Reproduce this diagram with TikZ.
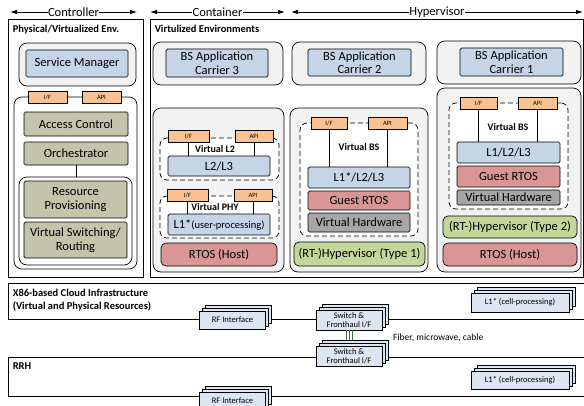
\documentclass[tikz,border=0pt]{standalone}
\usepackage{fontspec}
\setmainfont{Carlito}
\usetikzlibrary{arrows.meta,positioning,shadows,calc}

\definecolor{boxblue}{RGB}{198,212,232}
\definecolor{taborange}{RGB}{250,193,146}
\definecolor{olivebox}{RGB}{196,196,170}
\definecolor{rtosred}{RGB}{218,150,148}
\definecolor{hwgrey}{RGB}{166,166,166}
\definecolor{hypgreen}{RGB}{196,215,155}
\definecolor{envgrey}{RGB}{242,242,242}
\definecolor{stackblue}{RGB}{220,230,242}
\definecolor{linkgreen}{RGB}{50,110,50}

% \boxat{style}{name}{x1}{y1}{x2}{y2}{text}
\newcommand{\boxat}[7]{%
  \node[#1, minimum width={(#5)-(#3)}, minimum height={(#6)-(#4)}]
    (#2) at ({((#3)+(#5))/2},{((#4)+(#6))/2}) {#7};}

\tikzset{
  panel/.style={draw, line width=0.9pt, inner sep=0pt},
  envbox/.style={draw, line width=0.7pt, rounded corners=8pt, fill=envgrey, inner sep=0pt},
  groupbox/.style={draw, line width=0.7pt, rounded corners=8pt, fill=white, inner sep=0pt},
  vmbox/.style={draw, dash pattern=on 5pt off 3pt, line width=0.7pt, rounded corners=7pt, fill=white, inner sep=0pt},
  layer/.style={draw, line width=0.7pt, rounded corners=1.5pt, align=center, inner sep=0pt,
    font=\fontsize{12.5}{13.5}\selectfont},
  appbox/.style={layer, fill=boxblue},
  ctrlbox/.style={layer, fill=olivebox},
  osbox/.style={layer, fill=rtosred, rounded corners=5pt},
  guestbox/.style={layer, fill=rtosred},
  hwbox/.style={layer, fill=hwgrey},
  hypbox/.style={layer, fill=hypgreen, rounded corners=5pt},
  tab/.style={draw, line width=0.6pt, fill=taborange, inner sep=0pt,
    font=\fontsize{6.5}{7}\selectfont},
  stack/.style={draw, line width=0.6pt, fill=stackblue, align=center, inner sep=0pt,
    font=\fontsize{8.5}{9.5}\selectfont,
    copy shadow={shadow xshift=6pt, shadow yshift=6pt, fill=stackblue, draw=black, line width=0.6pt},
    copy shadow={shadow xshift=3pt, shadow yshift=3pt, fill=stackblue, draw=black, line width=0.6pt}},
  title/.style={anchor=north west, inner sep=0pt, align=left,
    font=\bfseries\fontsize{10.5}{13}\selectfont},
  vmlabel/.style={inner sep=0pt, font=\bfseries\fontsize{10}{11}\selectfont},
  span/.style={{Latex[length=7pt,width=4.5pt]}-{Latex[length=7pt,width=4.5pt]}, line width=0.8pt},
  spanlabel/.style={fill=white, inner sep=0.5pt, font=\fontsize{12.5}{13}\selectfont},
}

\begin{document}
\begin{tikzpicture}[x=1pt, y=-1pt]

    \clip (0,0) rectangle (584,405);

    % --- 1. Spans on top ---
    \coordinate (ctrlL) at (10,12);
    \coordinate (ctrlR) at (137,12);
    \coordinate (contL) at (150,12);
    \coordinate (contR) at (285,12);
    \coordinate (hypL) at (291,12);
    \coordinate (hypR) at (583,12);
    \draw[span] (ctrlL) -- (ctrlR) node[midway, spanlabel] {Controller};
    \draw[span] (contL) -- (contR) node[midway, spanlabel] {Container};
    \draw[span] (hypL) -- (hypR) node[midway, spanlabel] {Hypervisor};

    % --- 2. Controller panel ---
    \boxat{panel}{ctrl}{8}{19}{143}{277}{}
    \node[title] (ctrltitle) at ([shift={(5pt,-6pt)}]ctrl.north west) {Physical/Virtualized Env.};

    \boxat{envbox}{svcenv}{19}{43}{136}{86}{}
    \boxat{appbox}{svc}{26}{50}{128}{77}{Service Manager}

    \boxat{groupbox}{ctrlgrp}{14}{97}{137}{269}{}
    \boxat{tab}{if0}{28}{91}{67}{103}{I/F}
    \boxat{tab}{api0}{82}{91}{121}{103}{API}
    \boxat{ctrlbox}{acc}{24}{112}{128}{136}{Access Control}
    \boxat{ctrlbox}{orch}{24}{142}{128}{165}{Orchestrator}
    \boxat{groupbox}{resgrp}{19}{177}{132}{265}{}
    \boxat{ctrlbox}{res}{24}{181}{127}{218}{Resource\\Provisioning}
    \boxat{ctrlbox}{vsw}{24}{222}{127}{258}{Virtual Switching/\\Routing}
    \draw[line width=0.6pt] (orch.south) -- (orch.south |- resgrp.north);

    % --- 3. Virtualized environments panel ---
    \boxat{panel}{virt}{150}{19}{583}{277}{}
    \node[title] (virttitle) at ([shift={(5pt,-6pt)}]virt.north west) {Virtulized Environments};

    % carriers
    \boxat{envbox}{car3env}{153}{42}{283}{85}{}
    \boxat{appbox}{car3}{166}{49}{268}{77}{BS Application\\Carrier 3}
    \boxat{envbox}{car2env}{292}{42}{426}{85}{}
    \boxat{appbox}{car2}{308}{49}{411}{76}{BS Application\\Carrier 2}
    \boxat{envbox}{car1env}{437}{41}{581}{84}{}
    \boxat{appbox}{car1}{460}{48}{563}{76}{BS Application\\Carrier 1}

    % container column
    \boxat{envbox}{col3}{153}{108}{284}{272}{}
    \boxat{vmbox}{vml2}{160}{138}{279}{180}{}
    \boxat{tab}{if3a}{168}{130}{209}{142}{I/F}
    \boxat{tab}{api3a}{235}{130}{273}{142}{API}
    \node[vmlabel] (lbl3a) at (215,149) {Virtual L2};
    \boxat{appbox}{l23}{168}{156}{270}{176}{L2/L3}
    \draw[line width=0.6pt] (if3a.south) -- (if3a.south |- l23.north);
    \draw[line width=0.6pt] (api3a.south) -- (api3a.south |- l23.north);

    \boxat{vmbox}{vmphy}{160}{196}{279}{238}{}
    \boxat{tab}{if3b}{167}{189}{208}{201}{I/F}
    \boxat{tab}{api3b}{234}{189}{272}{201}{API}
    \node[vmlabel] (lbl3b) at (215,207) {Virtual PHY};
    \boxat{appbox}{l1u}{168}{214}{270}{235}{L1*{\fontsize{10.5}{12}\selectfont(user-processing)}}
    \draw[line width=0.6pt] (if3b.south) -- (if3b.south |- l1u.north);
    \draw[line width=0.6pt] (api3b.south) -- (api3b.south |- l1u.north);
    \boxat{osbox}{rtos3}{161}{243}{277}{266}{RTOS (Host)}

    % type 1 column
    \boxat{envbox}{col2}{290}{108}{428}{272}{}
    \boxat{vmbox}{vmbs2}{300}{123}{418}{236}{}
    \boxat{tab}{if2}{311}{117}{347}{129}{I/F}
    \boxat{tab}{api2}{368}{117}{407}{129}{API}
    \node[vmlabel] (lbl2) at (359,147) {Virtual BS};
    \boxat{appbox}{l123s}{308}{167}{410}{188}{L1*/L2/L3}
    \draw[line width=0.6pt] (if2.south) -- (if2.south |- l123s.north);
    \draw[line width=0.6pt] (api2.south) -- (api2.south |- l123s.north);
    \boxat{guestbox}{guest2}{308}{191}{410}{210}{Guest RTOS}
    \boxat{hwbox}{vhw2}{308}{213}{410}{232}{Virtual Hardware}
    \boxat{hypbox}{hyp1}{294}{242}{425}{266}{(RT-)Hypervisor (Type 1)}

    % type 2 column
    \boxat{envbox}{col1}{437}{88}{581}{272}{}
    \boxat{vmbox}{vmbs1}{449}{103}{568}{209}{}
    \boxat{tab}{if1}{460}{97}{497}{109}{I/F}
    \boxat{tab}{api1}{518}{97}{557}{109}{API}
    \node[vmlabel] (lbl1) at (508,127) {Virtual BS};
    \boxat{appbox}{l123}{457}{142}{560}{163}{L1/L2/L3}
    \draw[line width=0.6pt] (if1.south) -- (if1.south |- l123.north);
    \draw[line width=0.6pt] (api1.south) -- (api1.south |- l123.north);
    \boxat{guestbox}{guest1}{457}{166}{560}{187}{Guest RTOS}
    \boxat{hwbox}{vhw1}{457}{190}{560}{205}{Virtual Hardware}
    \boxat{hypbox}{hyp2}{443}{216}{577}{238}{(RT-)Hypervisor (Type 2)}
    \boxat{osbox}{rtos1}{443}{243}{577}{266}{RTOS (Host)}

    % --- 4. Cloud and RRH ---
    \boxat{panel}{x86}{8}{283}{600}{319}{}
    \node[title] (x86title) at ([shift={(5pt,-6pt)}]x86.north west)
        {X86-based Cloud Infrastructure\\(Virtual and Physical Resources)};
    \boxat{panel}{rrh}{8}{357}{600}{396}{}
    \node[title] (rrhtitle) at ([shift={(5pt,-6pt)}]rrh.north west) {RRH};

    \node[stack, minimum width=66, minimum height=18] (rfA) at (232.5,320) {RF Interface};
    \node[stack, minimum width=66, minimum height=20] (swA) at (349,320) {Switch \&\\Fronthaul I/F};
    \node[stack, minimum width=98, minimum height=19] (l1A) at (520,302.5) {L1* (cell-processing)};

    \node[stack, minimum width=66, minimum height=20] (swB) at (349,356) {Switch \&\\Fronthaul I/F};
    \node[stack, minimum width=98, minimum height=18] (l1B) at (520,380) {L1* (cell-processing)};
    \node[stack, minimum width=66, minimum height=18] (rfB) at (232.5,401) {RF Interface};

    % fronthaul link
    \foreach \dx in {-3,0,3}
        \draw[linkgreen, line width=0.5pt] ([xshift=\dx pt]swA.south) -- ([xshift=\dx pt, yshift=6pt]swB.north);
    \node[anchor=west, inner sep=0pt, font=\fontsize{9.5}{10}\selectfont] (fiber) at (393,338) {Fiber, microwave, cable};

\end{tikzpicture}
\end{document}
